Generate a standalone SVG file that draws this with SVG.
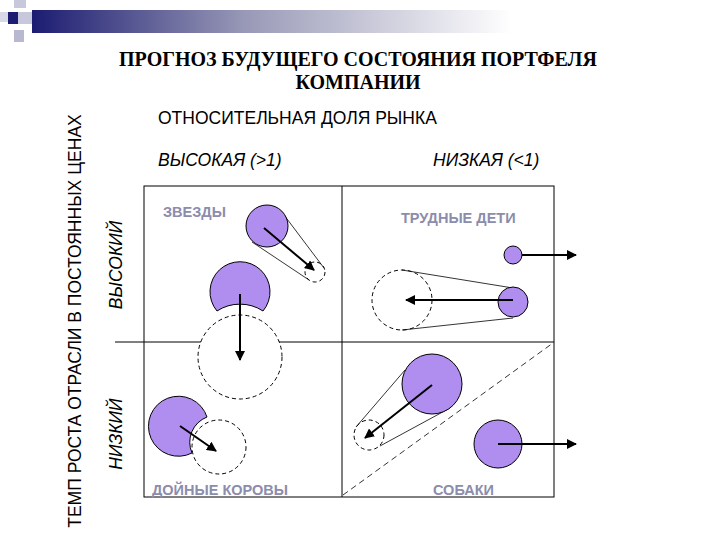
<svg xmlns="http://www.w3.org/2000/svg" width="720" height="540" viewBox="0 0 720 540">
<defs>
<linearGradient id="bar" x1="0" x2="1" y1="0" y2="0"><stop offset="0" stop-color="#1c1c72"/><stop offset="0.45" stop-color="#9a9ab8"/><stop offset="1" stop-color="#ffffff"/></linearGradient>
<marker id="ah" viewBox="0 0 10 10" refX="9" refY="5" markerWidth="5" markerHeight="5" orient="auto"><path d="M0,0 L10,5 L0,10 z" fill="#000"/></marker>
</defs>
<style>
.f{fill:#b08ef0;stroke:#000;stroke-width:1}
.d{fill:#fff;stroke:#000;stroke-width:1;stroke-dasharray:4,3}
.t{stroke:#000;stroke-width:0.8;fill:none}
.a{stroke:#000;stroke-width:2;fill:none;marker-end:url(#ah)}
.q{font-family:"Liberation Sans",Arial,sans-serif;font-weight:bold;font-size:14.5px;fill:#8c8cac}
.s{font-family:"Liberation Sans",Arial,sans-serif;font-size:17.5px;fill:#000}
</style>
<rect width="720" height="540" fill="#fff"/>
<g id="header">
<rect x="14" y="0" width="12" height="8" fill="#c8c8dc"/>
<rect x="0" y="12" width="8" height="10" fill="#d8d8e8"/>
<rect x="8" y="12" width="10" height="12" fill="#1c1c72"/>
<rect x="18" y="12" width="14" height="12" fill="#c8c8dc"/>
<rect x="14" y="30" width="10" height="12" fill="#b8b8d0"/>
<rect x="32" y="10" width="480" height="23" fill="url(#bar)"/>
</g>
<g id="title" font-family="Liberation Serif,serif" font-weight="bold" font-size="20" text-anchor="middle">
<text x="358" y="66">ПРОГНОЗ БУДУЩЕГО СОСТОЯНИЯ ПОРТФЕЛЯ</text>
<text x="358" y="89">КОМПАНИИ</text>
</g>
<g id="axes-labels">
<text class="s" x="158" y="124">ОТНОСИТЕЛЬНАЯ ДОЛЯ РЫНКА</text>
<text class="s" x="158" y="166" font-style="italic">ВЫСОКАЯ (&gt;1)</text>
<text class="s" x="433" y="166" font-style="italic">НИЗКАЯ (&lt;1)</text>
<text class="s" font-size="15.5" transform="translate(81,321) rotate(-90)" text-anchor="middle">ТЕМП РОСТА ОТРАСЛИ В ПОСТОЯННЫХ ЦЕНАХ</text>
<text class="s" font-size="15.5" transform="translate(122,265) rotate(-90)" text-anchor="middle" font-style="italic">ВЫСОКИЙ</text>
<text class="s" font-size="15.5" transform="translate(122,434) rotate(-90)" text-anchor="middle" font-style="italic">НИЗКИЙ</text>
</g>
<g id="matrix" stroke="#000" fill="none">
<rect x="144" y="186" width="410" height="311" stroke-width="1"/>
<line x1="342" y1="186" x2="342" y2="497"/>
<line x1="115" y1="342" x2="554" y2="342"/>
<line x1="343" y1="495" x2="553" y2="343" stroke-dasharray="6,4" stroke-width="0.8"/>
</g>
<g id="stars">
<circle class="d" cx="315" cy="272" r="10"/>
<line class="t" x1="281" y1="211" x2="324" y2="268"/>
<line class="t" x1="252" y1="242" x2="309" y2="280"/>
<circle class="f" cx="267" cy="226" r="21"/>
<circle class="d" cx="240" cy="357" r="42"/>
<path class="f" d="M217,311 A30,30 0 1 1 263,311 A42,42 0 0 0 217,311 Z"/>
</g>
<g id="cows">
<circle class="d" cx="219" cy="447" r="27"/>
<path class="f" d="M207,417 A30,30 0 1 0 192,453 A27,27 0 0 1 207,417 Z"/>
</g>
<g id="questions">
<circle class="d" cx="402" cy="300" r="30"/>
<line class="t" x1="402" y1="270" x2="513" y2="288"/>
<line class="t" x1="402" y1="330" x2="513" y2="318"/>
<circle class="f" cx="513" cy="302" r="15"/>
<circle class="f" cx="513" cy="255" r="9"/>
</g>
<g id="dogs">
<circle class="d" cx="369" cy="435" r="15"/>
<line class="t" x1="356" y1="427" x2="405" y2="370"/>
<line class="t" x1="380" y1="446" x2="450" y2="408"/>
<circle class="f" cx="432" cy="384" r="30"/>
<circle class="f" cx="498" cy="444" r="24"/>
</g>
<g id="connectors">
<line class="a" x1="264" y1="228" x2="314" y2="270"/>
<line class="a" x1="240" y1="294" x2="240" y2="360"/>
<line class="a" x1="180" y1="426" x2="216" y2="451"/>
<line class="a" x1="513" y1="300" x2="406" y2="300"/>
<line class="a" x1="522" y1="255" x2="576" y2="255"/>
<line class="a" x1="432" y1="385" x2="365" y2="438"/>
<line class="a" x1="498" y1="444" x2="576" y2="444"/>
</g>
<g id="quadrant-labels">
<text class="q" x="163" y="217">ЗВЕЗДЫ</text>
<text class="q" x="401" y="223">ТРУДНЫЕ ДЕТИ</text>
<text class="q" x="152" y="495">ДОЙНЫЕ КОРОВЫ</text>
<text class="q" x="433" y="495">СОБАКИ</text>
</g>
</svg>
